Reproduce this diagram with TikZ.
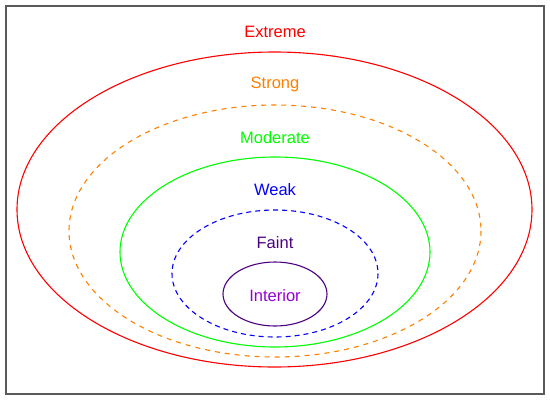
\documentclass[tikz,border=0pt]{standalone}
\usepackage{fontspec}
\setmainfont{Liberation Sans}
\definecolor{cext}{RGB}{255,0,0}
\definecolor{cstr}{RGB}{255,128,0}
\definecolor{cmod}{RGB}{0,255,0}
\definecolor{cweak}{RGB}{0,0,255}
\definecolor{cfaint}{RGB}{75,0,130}
\definecolor{cint}{RGB}{148,0,211}
\definecolor{cframe}{RGB}{90,90,90}
\begin{document}
\begin{tikzpicture}[x=1pt,y=-1pt,
  lbl/.style={font=\fontsize{16.5}{19}\selectfont, inner sep=0pt, anchor=base},
  ring/.style={line width=1.1pt}]
\useasboundingbox (0,0) rectangle (550,400);
\draw[cframe, line width=2pt] (6,6) rectangle (544,394);
\draw[ring, cext] (274.5,209.5) ellipse [x radius=257.5, y radius=157.5];
\draw[ring, cstr, dash pattern=on 5pt off 5pt] (275,231) ellipse [x radius=206, y radius=126];
\draw[ring, cmod] (275,252) ellipse [x radius=155, y radius=95];
\draw[ring, cweak, dash pattern=on 5pt off 4pt] (275,273.5) ellipse [x radius=103, y radius=63.5];
\draw[ring, cfaint] (275,294) ellipse [x radius=52, y radius=32];
\node[lbl, text=cext] (extreme) at (275,37) {Extreme};
\node[lbl, text=cstr] (strong) at (275,88) {Strong};
\node[lbl, text=cmod] (moderate) at (275,143) {Moderate};
\node[lbl, text=cweak] (weak) at (275,195) {Weak};
\node[lbl, text=cfaint] (faint) at (275,248) {Faint};
\node[lbl, text=cint] (interior) at (275,301) {Interior};
\end{tikzpicture}
\end{document}
